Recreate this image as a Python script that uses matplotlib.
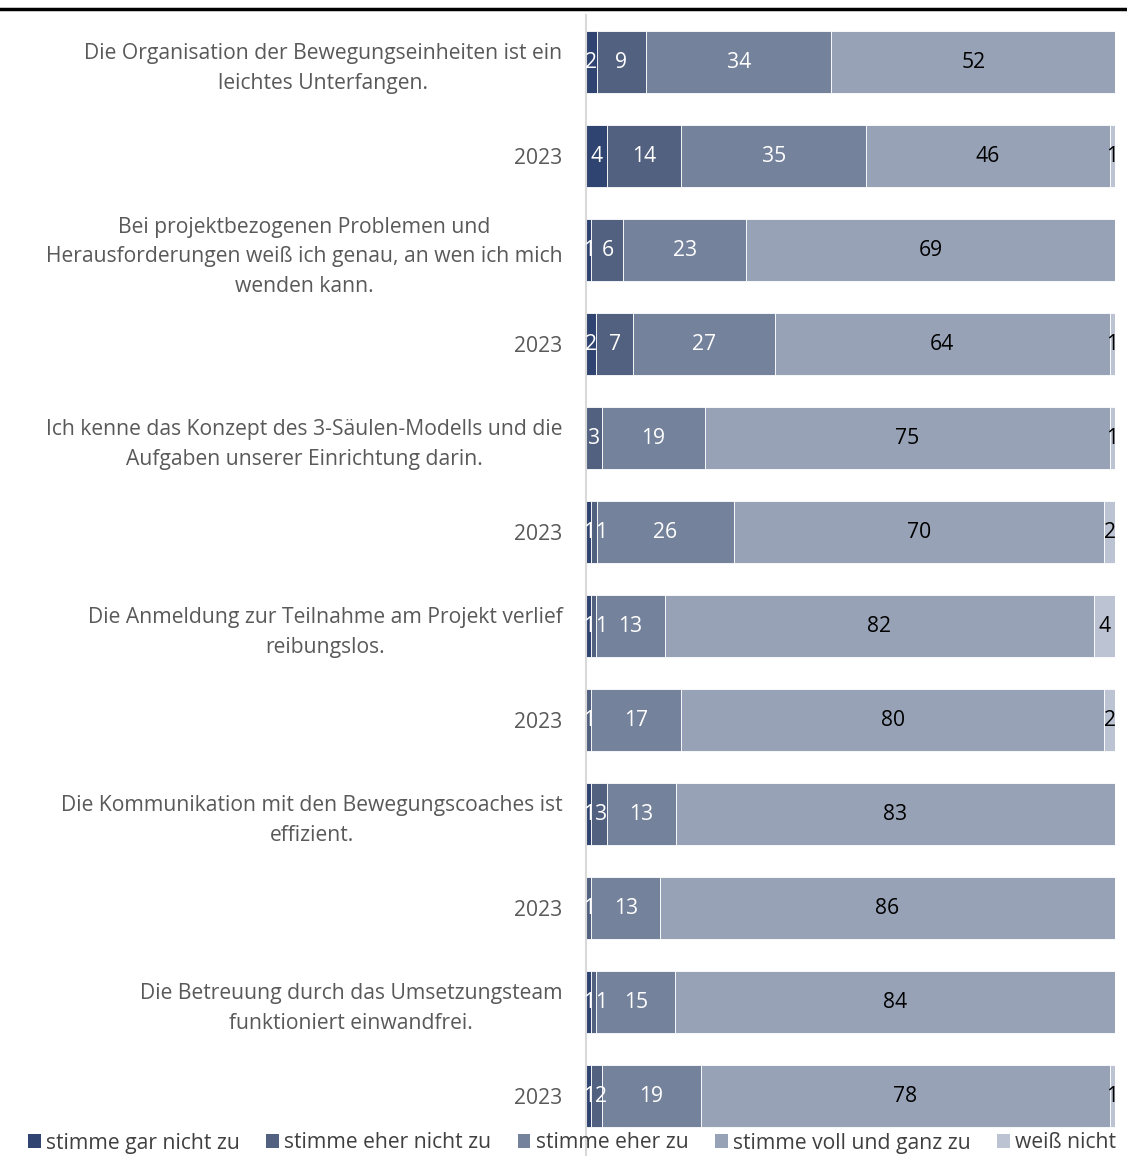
import matplotlib
matplotlib.use("Agg")
import matplotlib.pyplot as plt
import numpy as np
from matplotlib.lines import Line2D
from matplotlib.patches import Patch

plt.rcParams['font.family'] = ['Open Sans', 'DejaVu Sans']

categories = [
    "Die Organisation der Bewegungseinheiten ist ein\nleichtes Unterfangen.",
    "2023",
    "Bei projektbezogenen Problemen und\nHerausforderungen weiß ich genau, an wen ich mich\nwenden kann.",
    "2023",
    "Ich kenne das Konzept des 3-Säulen-Modells und die\nAufgaben unserer Einrichtung darin.",
    "2023",
    "Die Anmeldung zur Teilnahme am Projekt verlief\nreibungslos.",
    "2023",
    "Die Kommunikation mit den Bewegungscoaches ist\neffizient.",
    "2023",
    "Die Betreuung durch das Umsetzungsteam\nfunktioniert einwandfrei.",
    "2023",
]
series_names = ["stimme gar nicht zu", "stimme eher nicht zu", "stimme eher zu",
                "stimme voll und ganz zu", "weiß nicht"]
gar_nicht = [2, 4, 1, 2, 0, 1, 1, 0, 1, 0, 1, 1]
eher_nicht = [9, 14, 6, 7, 3, 1, 1, 1, 3, 1, 1, 2]
eher_zu = [34, 35, 23, 27, 19, 26, 13, 17, 13, 13, 15, 19]
voll = [52, 46, 69, 64, 75, 70, 82, 80, 83, 86, 84, 78]
weiss_nicht = [0, 1, 0, 1, 1, 2, 4, 2, 0, 0, 0, 1]

colors = ["#2f4470", "#52617f", "#75829b", "#97a2b6", "#bcc3d2"]
label_colors = ["white", "white", "white", "black", "black"]

W, H = 1127, 1156
FS = 15.2
fig = plt.figure(figsize=(W / 100, H / 100), dpi=100)
ax = fig.add_axes([586 / W, 0, (1115 - 586) / W, 1 - 15 / H])

data = np.array([gar_nicht, eher_nicht, eher_zu, voll, weiss_nicht], dtype=float)
totals = data.sum(axis=0)
pct = data / totals * 100
y = np.arange(len(categories))
left = np.zeros(len(categories))
char_w = 9.0 / 529 * 100  # approx digit width in data units
gap = 0.6
prev_right = np.full(len(categories), -10.0)
for k in range(5):
    ax.barh(y, pct[k], left=left, height=0.66, color=colors[k],
            edgecolor="white", linewidth=0.6, label=series_names[k])
    for i in range(len(categories)):
        if data[k, i] > 0:
            txt = f"{int(data[k, i])}"
            half = len(txt) * char_w / 2
            cx = left[i] + pct[k, i] / 2
            if cx - half < prev_right[i] + gap:
                cx = prev_right[i] + gap + half
            prev_right[i] = cx + half
            ax.text(cx, y[i], txt, ha="center", va="center", fontsize=FS,
                    color=label_colors[k])
    left += pct[k]

ax.set_xlim(0, 100)
ax.set_ylim((1156 - 62) / 94, -0.5)
ax.set_yticks(y)
ax.set_yticklabels(categories, fontsize=FS, color="#595959",
                   multialignment="center", linespacing=1.55)
ax.tick_params(axis="y", length=0, pad=17)
ax.set_xticks([])
for s in ["top", "right", "bottom"]:
    ax.spines[s].set_visible(False)
ax.spines["left"].set_color("#d9d9d9")
ax.spines["left"].set_linewidth(1.5)

fig.add_artist(Line2D([0, 1], [1 - 9 / H, 1 - 9 / H], color="black",
                      linewidth=2.5, transform=fig.transFigure))

handles = [Patch(facecolor=c, edgecolor="none") for c in colors]
fig.legend(handles, series_names, loc="center", bbox_to_anchor=(572 / W, 1 - 1143 / H),
           ncol=5, frameon=False, fontsize=FS, handlelength=0.6, handleheight=0.6,
           handletextpad=0.25, columnspacing=1.25, labelcolor="#404040",
           borderpad=0, borderaxespad=0)

fig.savefig("out.png", dpi=100)
